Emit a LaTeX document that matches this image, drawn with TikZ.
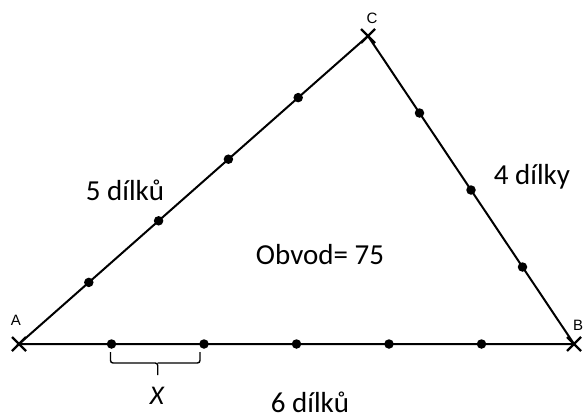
\documentclass[tikz,border=0pt]{standalone}
\usepackage{fontspec}
\setmainfont{Carlito}
\newfontfamily\vtxfont{Liberation Sans}
\usetikzlibrary{calc}

\begin{document}
\begin{tikzpicture}[
  x=1pt, y=-1pt,
  side/.style  = {line width=2pt},
  dot/.style   = {circle, fill, inner sep=0pt, minimum size=9.5pt},
  vmark/.style = {line width=2.4pt},
  brk/.style   = {line width=1.4pt, rounded corners=2.5pt},
  vlbl/.style  = {font=\vtxfont\fontsize{15}{15}\selectfont},
  lbl/.style   = {font=\fontsize{29}{30}\selectfont}
]
\useasboundingbox (0,0) rectangle (584,418);
%% -- Vertices --
\coordinate (A) at (19,344);
\coordinate (B) at (574,344);
\coordinate (C) at (368,36);
%% -- Sides --
\draw[side] (A) -- (B) -- (C) -- cycle;
%% -- Vertex marks --
\foreach \v in {A,B,C}{
  \draw[vmark] (\v) +(-7,-7) -- +(7,7) (\v) +(-7,7) -- +(7,-7);}
\node[vlbl] (la) at (16,320) {A};
\node[vlbl] (lb) at (578,325) {B};
\node[vlbl] (lc) at (372,18) {C};
%% -- Division points --
\foreach \i in {1,...,5}
  \node[dot] (ab\i) at ($(A)!{\i/6}!(B)$) {};
\foreach \i in {1,...,4}
  \node[dot] (ac\i) at ($(A)!{\i/5}!(C)$) {};
\foreach \i in {1,...,3}
  \node[dot] (cb\i) at ($(C)!{\i/4}!(B)$) {};
%% -- Bracket under one part --
\coordinate (mid) at ($(ab1)!0.5!(ab2)$);
\draw[brk] ($(ab1)+(-1,8)$) |- ($(mid)+(0,19)$) -- ($(mid)+(0,31)$);
\draw[brk] ($(ab2)+(-4,8)$) |- ($(mid)+(0,19)$);
\node[lbl, font=\fontsize{27}{28}\selectfont\itshape] (xl) at (157,396) {X};
%% -- Labels --
\node[lbl] (l5) at (125,190) {5 dílků};
\node[lbl] (l4) at (532,177) {4 dílky};
\node[lbl] (lo) at (320,255) {Obvod= 75};
\node[lbl] (l6) at (310,402) {6 dílků};
\end{tikzpicture}
\end{document}
